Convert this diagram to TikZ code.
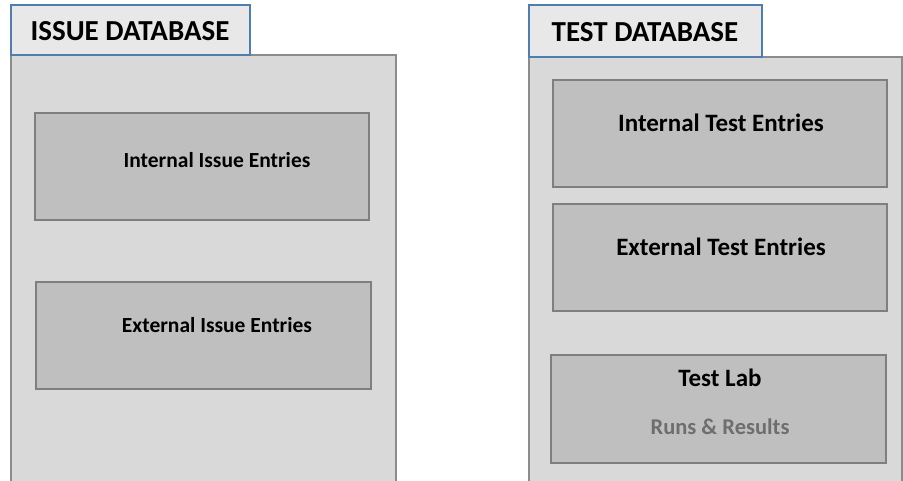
\documentclass[tikz,border=0pt]{standalone}
\usepackage{fontspec}
\setmainfont{Carlito}
\definecolor{panelfill}{HTML}{D9D9D9}
\definecolor{panelline}{HTML}{8C8C8C}
\definecolor{boxfill}{HTML}{BFBFBF}
\definecolor{boxline}{HTML}{7F7F7F}
\definecolor{tabfill}{HTML}{E8E8E8}
\definecolor{tabline}{HTML}{4F7DAE}
\definecolor{subtext}{HTML}{6E6E6E}
\begin{document}
\begin{tikzpicture}[x=1pt,y=-1pt,
  panel/.style={fill=panelfill,draw=panelline,line width=1.5pt},
  tab/.style={draw=tabline,fill=tabfill,line width=1.5pt},
  entrybox/.style={draw=boxline,fill=boxfill,line width=2pt},
  title/.style={font=\bfseries\fontsize{29}{32}\selectfont,inner sep=0pt,anchor=base},
  label/.style={font=\bfseries\fontsize{21.5}{24}\selectfont,inner sep=0pt,anchor=base},
  biglabel/.style={font=\bfseries\fontsize{25}{28}\selectfont,inner sep=0pt,anchor=base},
  sublabel/.style={font=\bfseries\fontsize{22.5}{25}\selectfont,text=subtext,inner sep=0pt,anchor=base}]
\useasboundingbox (0,0) rectangle (903,481);
% left panel
\fill[panelfill] (11,55) rectangle (396,485);
\draw[panelline,line width=1.5pt] (11,485) -- (11,55) -- (396,55) -- (396,485);
\draw[tab] (11,5) rectangle (250,55);
\node[title] (issuetitle) at (130,41) {ISSUE DATABASE};
\draw[entrybox] (35,113) rectangle (369,220);
\node[label] (intissue) at (217,168) {Internal Issue Entries};
\draw[entrybox] (36,282) rectangle (371,389);
\node[label] (extissue) at (217,332) {External Issue Entries};
% right panel
\fill[panelfill] (529,57) rectangle (902,485);
\draw[panelline,line width=1.5pt] (529,485) -- (529,57) -- (902,57) -- (902,485);
\draw[tab] (529,5) rectangle (762,57);
\node[title] (testtitle) at (645,42) {TEST DATABASE};
\draw[entrybox] (553,80) rectangle (887,187);
\node[biglabel] (inttest) at (721,132) {Internal Test Entries};
\draw[entrybox] (553,204) rectangle (887,311);
\node[biglabel] (exttest) at (721,256) {External Test Entries};
\draw[entrybox] (551,355) rectangle (886,463);
\node[biglabel] (testlab) at (720,386) {Test Lab};
\node[sublabel] (runs) at (720,434) {Runs \& Results};
\end{tikzpicture}
\end{document}
